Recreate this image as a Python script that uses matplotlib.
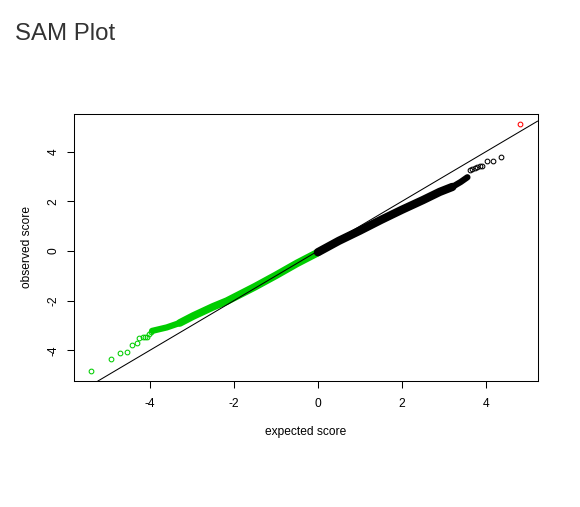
import numpy as np
import matplotlib
matplotlib.use('Agg')
import matplotlib.pyplot as plt

plt.rcParams['font.family'] = ['Liberation Sans', 'DejaVu Sans']
plt.rcParams['axes.unicode_minus'] = False

# dense part of the plot (thousands of overlapping circles), read as a band
green_band_x = [-3.95, -3.60, -3.29, -2.97, -2.50, -2.17, -1.50, -1.00, -0.50, -0.02]
green_band_y = [-3.22, -3.08, -2.90, -2.62, -2.25, -2.02, -1.44, -0.98, -0.50, -0.08]

black_band_x = [0.00, 0.50, 1.00, 1.50, 2.00, 2.50, 2.90, 3.20, 3.40, 3.56]
black_band_y = [-0.05, 0.41, 0.82, 1.25, 1.66, 2.05, 2.38, 2.58, 2.78, 2.97]

# single circles at both tails
green_pts_x = [-5.40, -4.92, -4.71, -4.54, -4.42, -4.30, -4.25, -4.16, -4.11, -4.06, -4.02, -3.98]
green_pts_y = [-4.84, -4.36, -4.12, -4.08, -3.80, -3.72, -3.52, -3.48, -3.48, -3.48, -3.33, -3.26]

black_pts_x = [3.62, 3.68, 3.74, 3.79, 3.86, 3.90, 4.02, 4.16, 4.35]
black_pts_y = [3.27, 3.31, 3.34, 3.37, 3.41, 3.44, 3.61, 3.62, 3.79]

red_pts_x = [4.82]
red_pts_y = [5.12]

x_ticks = [-4, -2, 0, 2, 4]
y_ticks = [-4, -2, 0, 2, 4]

green = '#00CD00'

fig = plt.figure(figsize=(5.8, 5.07), dpi=100)
fig.text(15 / 580, 1 - 40 / 507, 'SAM Plot', fontsize=17.3, color='#333333', va='baseline')

ax = fig.add_axes([74 / 580, 1 - 381 / 507, (537.5 - 74) / 580, (381 - 114) / 507])

# band is thinner where the points thin out at its ends
ax.plot(green_band_x[:3], green_band_y[:3], '-', color=green, lw=4.5, solid_capstyle='round')
ax.plot(green_band_x[2:], green_band_y[2:], '-', color=green, lw=5.5, solid_capstyle='round')
ax.plot(black_band_x[:8], black_band_y[:8], '-', color='black', lw=6, solid_capstyle='round')
ax.plot(black_band_x[7:], black_band_y[7:], '-', color='black', lw=4.5, solid_capstyle='round')

mk = dict(marker='o', linestyle='none', markerfacecolor='none', markersize=3.4, markeredgewidth=0.75)
ax.plot(green_pts_x, green_pts_y, markeredgecolor=green, **mk)
ax.plot(black_pts_x, black_pts_y, markeredgecolor='black', **mk)
ax.plot(red_pts_x, red_pts_y, markeredgecolor='red', **mk)

ax.margins(x=0.04, y=0.04)
ax.axline((0, 0), slope=1, color='black', lw=0.75)

ax.set_xticks(x_ticks)
ax.set_yticks(y_ticks)
ax.tick_params(axis='both', length=5, width=0.75, labelsize=8.64, color='black')
ax.tick_params(axis='x', pad=7)
ax.tick_params(axis='y', pad=5.5, labelrotation=90)
for lab in ax.get_yticklabels():
    lab.set_va('center')

ax.set_xlabel('expected score', fontsize=8.64, labelpad=12)
ax.set_ylabel('observed score', fontsize=8.64, labelpad=10.5)

for s in ax.spines.values():
    s.set_linewidth(0.75)

fig.savefig('out.png', dpi=100)
